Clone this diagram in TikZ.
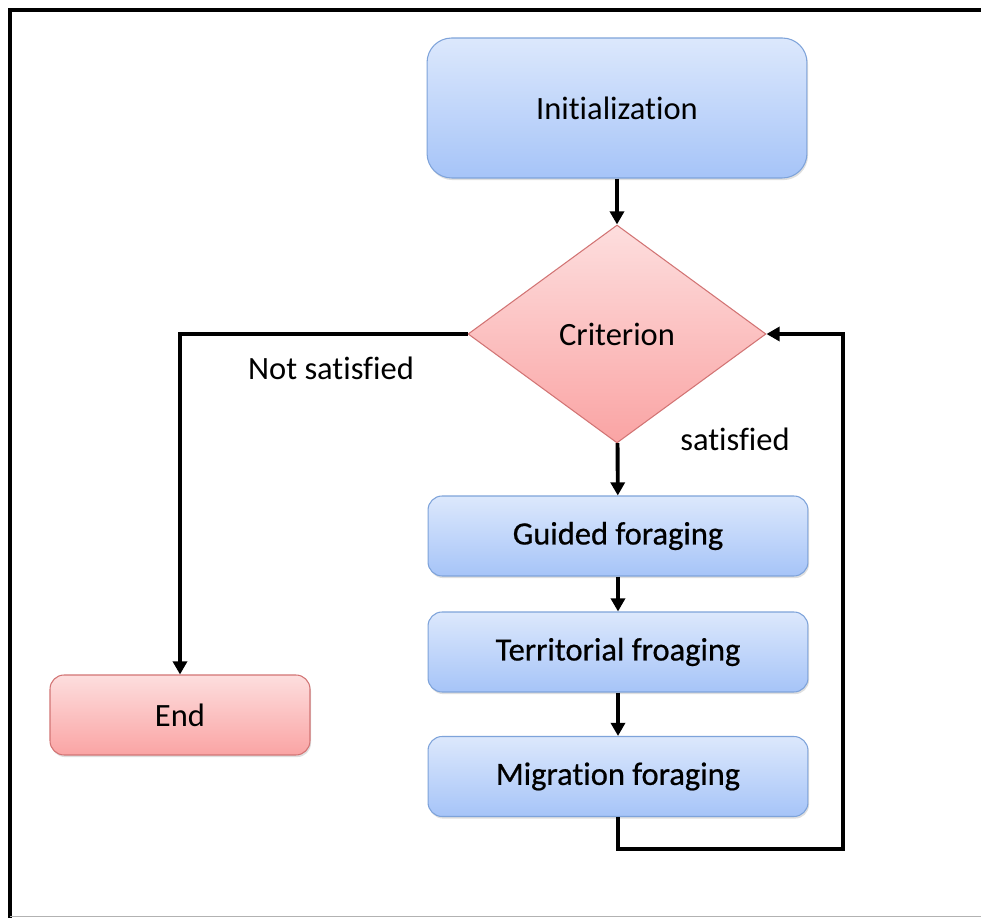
\documentclass[tikz,border=0pt]{standalone}
\usepackage{fontspec}
\setmainfont{Carlito}[RawFeature={-liga;-clig;-calt;-dlig}]
\usetikzlibrary{arrows.meta,shapes.geometric,shadows}
\definecolor{bluetop}{HTML}{DCE8FC}
\definecolor{bluebot}{HTML}{A6C4F8}
\definecolor{blueline}{HTML}{7EA3DA}
\definecolor{redtop}{HTML}{FDDEDE}
\definecolor{redbot}{HTML}{FAA4A4}
\definecolor{redline}{HTML}{D27474}
\begin{document}
\begin{tikzpicture}[x=0.02cm,y=-0.02cm,font=\fontsize{18.5}{22}\selectfont,
  box/.style={rectangle,rounded corners=8pt,draw=blueline,line width=0.6pt,top color=bluetop,bottom color=bluebot,
    minimum width=7.6cm,minimum height=1.6cm,inner sep=0pt,
    drop shadow={shadow xshift=0.6pt,shadow yshift=-1.2pt,opacity=0.25}},
  stepbox/.style={box,font=\fontsize{18.5}{22}\selectfont\addfontfeature{FakeBold=0.6}},
  redbox/.style={box,draw=redline,top color=redtop,bottom color=redbot},
  test/.style={diamond,draw=redline,line width=0.6pt,top color=redtop,bottom color=redbot,
    minimum width=5.96cm,minimum height=4.36cm,inner sep=0pt},
  flow/.style={line width=2.2pt,-{Triangle[length=7.5pt,width=8pt]}}]
  \useasboundingbox (0,0) rectangle (981,918);
  \fill[white] (0,0) rectangle (981,918);
  \draw[line width=2.4pt] (10,918) -- (10,10) -- (981,10);
  \draw[gray!60,line width=0.6pt] (10,916.5) -- (981,916.5);
  \node[box,minimum height=2.8cm,rounded corners=14pt] (I) at (617,108) {Initialization};
  \node[test] (C) at (617,334) {Criterion};
  \node[stepbox] (G) at (618,536) {Guided foraging};
  \node[stepbox] (T) at (618,652) {Territorial froaging};
  \node[stepbox] (M) at (618,776.5) {Migration foraging};
  \node[redbox,minimum width=5.2cm] (E) at (180,715) {End};
  \node (ns) at (331,368) {Not satisfied};
  \node (s) at (735,439) {satisfied};
  \coordinate (lp) at (843,849);
  \draw[flow] (I) -- (C);
  \draw[flow] (C) -- (G);
  \draw[flow] (G) -- (T);
  \draw[flow] (T) -- (M);
  \draw[flow] (C.west) -| (E.north);
  \draw[flow] (M.south) |- (lp) |- (C.east);
\end{tikzpicture}
\end{document}
